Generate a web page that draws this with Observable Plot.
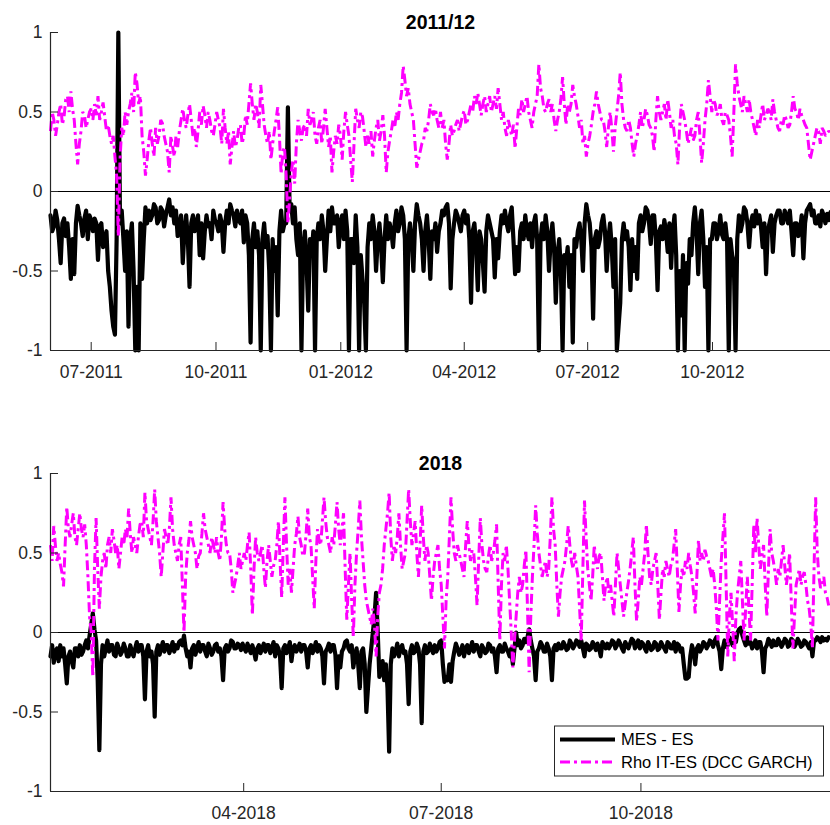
<!DOCTYPE html>
<html>
<head>
<meta charset="utf-8">
<script src="https://cdn.jsdelivr.net/npm/d3@7"></script>
<script src="https://cdn.jsdelivr.net/npm/@observablehq/plot@0.6"></script>
<style>
  html, body { margin: 0; padding: 0; background: #fff; }
  #fig { position: relative; width: 830px; height: 825px; overflow: hidden;
         font-family: "Liberation Sans", Arial, Helvetica, sans-serif; }
  #fig > .panel { position: absolute; left: 0; }
  #fig > svg.legend { position: absolute; }
</style>
</head>
<body>
<div id="fig"></div>
<script>
// ---- 2011/12 panel: one observation every 2.5 days, plus one half-way between each pair ----
const topStart = "2011-06-01";
const topStepDays = 2.5;
const topDomain = ["2011-06-01", "2012-12-27"];
const topTicks = ["2011-07-01", "2011-10-01", "2012-01-01", "2012-04-01", "2012-07-01", "2012-10-01"];

const mesTop = [
  -0.15, -0.22, -0.18, -0.45, -0.17, -0.2, -0.55, -0.52, -0.09, -0.2,
  -0.17, -0.3, -0.18, -0.17, -0.43, -0.2, -0.3, -0.5, -0.75, -0.9,
  1.0, -0.12, -0.5, -0.85, -0.2, -1.0, -1.0, -0.55, -0.1, -0.12,
  -0.15, -0.1, -0.18, -0.12, -0.15, -0.05, -0.1, -0.12, -0.22, -0.45,
  -0.15, -0.6, -0.15, -0.2, -0.4, -0.42, -0.15, -0.2, -0.12, -0.2,
  -0.15, -0.38, -0.12, -0.08, -0.15, -0.12, -0.2, -0.32,
  -0.2, -0.95, -0.2, -0.25, -1.0, -0.2, -0.28, -1.0, -0.5, -0.78,
  -0.12, -0.2, 0.53, -0.08, -0.1, -0.4, -1.0, -0.25, -0.75, -0.4,
  -1.0, -0.2, -0.15, -0.5, -0.12, -0.1, -0.2, -0.35, -0.15, -0.12,
  -1.0, -0.3, -0.15, -1.0, -0.55, -1.0, -0.2, -0.15, -0.5, -0.2,
  -0.57, -0.15, -0.2, -0.35, -0.12, -0.2, -0.15, -1.0, -0.2, -0.5,
  -0.08, -0.2, -0.5, -0.15, -0.55, -0.3, -0.38, -0.2,
  -0.15, -0.08, -0.61, -0.2, -0.15, -0.25, -0.12, -0.15, -0.7, -0.2,
  -0.62, -0.3, -0.63, -0.15, -0.25, -0.54, -0.42, -0.15, -0.12, -0.25,
  -0.1, -0.52, -0.5, -0.2, -0.15, -0.3, -0.35, -0.15, -1.0, -0.2,
  -0.15, -0.5, -0.2, -0.7, -0.3, -1.0, -0.45, -0.6, -0.95, -0.35,
  -0.2, -0.5, -0.08, -0.2, -0.8, -0.25, -0.3, -0.15, -0.5, -0.2,
  -0.6, -1.0, -0.7, -0.2, -0.25, -0.62, -0.5, -0.55,
  -0.15, -0.2, -0.12, -0.33, -0.15, -0.62, -0.22, -0.18, -0.38, -0.48,
  -0.15, -1.0, -0.78, -1.0, -0.58, -0.4, -0.1, -0.52, -0.12, -0.6,
  -1.0, -0.3, -0.2, -0.25, -0.27, -0.2, -1.0, -0.4, -1.0, -0.15,
  -0.2, -0.12, -0.35, -0.15, -0.12, -0.15, -0.35, -0.52, -0.2, -0.38,
  -0.15, -0.12, -0.2, -0.15, -0.12, -0.4, -0.2, -0.25, -0.42, -0.12,
  -0.08, -0.12, -0.2, -0.22, -0.15, -0.14, -0.13
];
const mesTopMid = [
  -0.25, -0.12, -0.3, -0.2, -0.28, -0.35, -0.3, -0.2, -0.15, -0.28,
  -0.12, -0.15, -0.25, -0.2, -0.22, -0.35, -0.25, -0.6, -0.85, -0.3,
  -0.2, -0.3, -0.25, -0.3, -0.5, -0.6, -0.2, -0.3, -0.2, -0.18,
  -0.08, -0.2, -0.1, -0.22, -0.1, -0.15, -0.2, -0.28, -0.15, -0.25,
  -0.3, -0.2, -0.25, -0.15, -0.2, -0.25, -0.22, -0.3, -0.18, -0.25,
  -0.2, -0.2, -0.2, -0.12, -0.22, -0.18, -0.12, -0.15, -0.4, -0.3,
  -0.35, -0.4, -0.3, -0.35, -0.5, -0.3, -0.35, -0.25, -0.25, -0.2,
  -0.1, -0.2, -0.3, -0.2, -0.35, -0.45, -0.3, -0.25, -0.3, -0.3,
  -0.25, -0.3, -0.25, -0.2, -0.15, -0.2, -0.3, -0.25, -0.3, -0.45,
  -0.35, -0.4, -0.7, -0.35, -0.3, -0.25, -0.3, -0.35, -0.3, -0.3,
  -0.25, -0.2, -0.25, -0.1, -0.3, -0.3, -0.3, -0.2, -0.15, -0.3,
  -0.25, -0.3, -0.25, -0.2, -0.25, -0.12, -0.1, -0.2, -0.3, -0.12,
  -0.2, -0.15, -0.2, -0.3, -0.25, -0.35, -0.25, -0.45, -0.25, -0.2,
  -0.3, -0.3, -0.25, -0.2, -0.2, -0.15, -0.3, -0.35, -0.25, -0.3,
  -0.25, -0.2, -0.2, -0.3, -0.3, -0.3, -0.25, -0.3, -0.35, -0.4,
  -0.5, -0.4, -0.35, -0.4, -0.3, -0.25, -0.3, -0.2, -0.15, -0.35,
  -0.3, -0.35, -0.2, -0.25, -0.3, -0.35, -0.3, -0.85, -0.3, -0.3,
  -0.35, -0.3, -0.35, -0.2, -0.25, -0.1, -0.2, -0.15, -0.3, -0.25,
  -0.3, -0.25, -0.2, -0.25, -0.4, -0.5, -0.4, -0.45, -0.3, -0.2,
  -0.25, -0.2, -0.3, -0.35, -0.3, -0.2, -0.3, -0.15, -0.3, -0.3,
  -0.3, -0.45, -0.3, -0.25, -0.1, -0.2, -0.2, -0.22, -0.2, -0.22,
  -0.2, -0.25, -0.15, -0.2, -0.12, -0.2, -0.12, -0.2, -0.25, -0.2,
  -0.28, -0.15, -0.2, -0.1, -0.15, -0.2, -0.15, -0.12, -0.2, -0.18
];

const rhoTop = [
  0.38, 0.45, 0.42, 0.55, 0.47, 0.6, 0.63, 0.45, 0.17, 0.38,
  0.48, 0.45, 0.52, 0.55, 0.6, 0.5, 0.47, 0.42, 0.3, 0.22,
  -0.28, 0.4, 0.5, 0.5, 0.62, 0.75, 0.55, 0.35, 0.1, 0.32,
  0.3, 0.4, 0.35, 0.43, 0.3, 0.12, 0.28, 0.35, 0.38, 0.52,
  0.4, 0.55, 0.35, 0.28, 0.5, 0.54, 0.4, 0.45, 0.35, 0.5,
  0.4, 0.52, 0.3, 0.17, 0.38, 0.32, 0.42, 0.35,
  0.42, 0.68, 0.45, 0.5, 0.67, 0.42, 0.3, 0.2, 0.38, 0.53,
  0.11, 0.28, -0.2, 0.12, 0.05, 0.45, 0.32, 0.42, 0.52, 0.45,
  0.35, 0.4, 0.3, 0.52, 0.28, 0.12, 0.35, 0.42, 0.2, 0.5,
  0.35, 0.06, 0.52, 0.4, 0.47, 0.28, 0.3, 0.22, 0.4, 0.32,
  0.48, 0.12, 0.32, 0.45, 0.5, 0.55, 0.79, 0.6, 0.55, 0.45,
  0.15, 0.25, 0.32, 0.38, 0.55, 0.48, 0.45, 0.5,
  0.45, 0.2, 0.42, 0.38, 0.45, 0.43, 0.51, 0.45, 0.55, 0.6,
  0.62, 0.48, 0.6, 0.55, 0.5, 0.6, 0.65, 0.45, 0.4, 0.45,
  0.35, 0.27, 0.52, 0.58, 0.55, 0.5, 0.4, 0.55, 0.8, 0.6,
  0.5, 0.58, 0.55, 0.38, 0.5, 0.72, 0.42, 0.5, 0.67, 0.55,
  0.4, 0.3, 0.22, 0.35, 0.5, 0.63, 0.5, 0.45, 0.28, 0.5,
  0.25, 0.5, 0.75, 0.45, 0.38, 0.4, 0.22, 0.35,
  0.5, 0.45, 0.48, 0.4, 0.25, 0.6, 0.45, 0.55, 0.58, 0.4,
  0.35, 0.17, 0.55, 0.45, 0.3, 0.4, 0.35, 0.5, 0.18, 0.45,
  0.7, 0.5, 0.55, 0.5, 0.45, 0.5, 0.45, 0.22, 0.8, 0.6,
  0.5, 0.55, 0.58, 0.45, 0.35, 0.4, 0.55, 0.48, 0.5, 0.58,
  0.45, 0.38, 0.42, 0.45, 0.42, 0.6, 0.5, 0.52, 0.45, 0.4,
  0.2, 0.3, 0.4, 0.3, 0.38, 0.36, 0.37
];
const rhoTopMid = [
  0.5, 0.35, 0.5, 0.42, 0.58, 0.5, 0.52, 0.3, 0.3, 0.5,
  0.4, 0.5, 0.45, 0.48, 0.45, 0.56, 0.38, 0.35, 0.35, 0.1,
  0.2, 0.35, 0.42, 0.55, 0.5, 0.68, 0.6, 0.25, 0.2, 0.4,
  0.22, 0.3, 0.45, 0.35, 0.25, 0.35, 0.22, 0.28, 0.45, 0.45,
  0.48, 0.45, 0.4, 0.38, 0.42, 0.48, 0.5, 0.38, 0.42, 0.45,
  0.3, 0.4, 0.38, 0.28, 0.28, 0.4, 0.3, 0.48, 0.55, 0.55,
  0.55, 0.4, 0.55, 0.35, 0.38, 0.3, 0.45, 0.35, 0.25, 0.1,
  -0.05, 0.2, 0.3, 0.38, 0.4, 0.35, 0.42, 0.5, 0.3, 0.45,
  0.4, 0.4, 0.35, 0.25, 0.3, 0.35, 0.38, 0.42, 0.2, 0.3,
  0.45, 0.5, 0.38, 0.35, 0.38, 0.32, 0.45, 0.38, 0.35, 0.25,
  0.38, 0.4, 0.45, 0.62, 0.7, 0.65, 0.5, 0.3, 0.2, 0.3,
  0.4, 0.45, 0.5, 0.52, 0.4, 0.4, 0.3, 0.3, 0.35, 0.42,
  0.38, 0.48, 0.42, 0.5, 0.5, 0.55, 0.55, 0.55, 0.5, 0.6,
  0.55, 0.52, 0.55, 0.5, 0.35, 0.4, 0.42, 0.4, 0.48, 0.5,
  0.6, 0.45, 0.5, 0.6, 0.65, 0.52, 0.55, 0.5, 0.45, 0.45,
  0.58, 0.55, 0.55, 0.55, 0.6, 0.48, 0.45, 0.35, 0.3, 0.42,
  0.55, 0.55, 0.45, 0.38, 0.4, 0.4, 0.4, 0.6, 0.55, 0.4,
  0.45, 0.3, 0.3, 0.42, 0.4, 0.52, 0.42, 0.35, 0.45, 0.5,
  0.5, 0.45, 0.5, 0.45, 0.3, 0.4, 0.5, 0.38, 0.35, 0.32,
  0.45, 0.35, 0.3, 0.55, 0.6, 0.58, 0.48, 0.55, 0.42, 0.48,
  0.35, 0.5, 0.68, 0.55, 0.6, 0.5, 0.5, 0.4, 0.45, 0.48,
  0.45, 0.52, 0.45, 0.5, 0.4, 0.45, 0.48, 0.4, 0.5, 0.52,
  0.45, 0.48, 0.42, 0.3, 0.25, 0.35, 0.38, 0.4, 0.35, 0.38
];

// ---- 2018 panel: one observation every 1.5 days, plus one half-way between each pair ----
const bottomStart = "2018-01-02";
const bottomStepDays = 1.5;
const bottomDomain = ["2018-01-02", "2018-12-27T08:00"];
const bottomTicks = ["2018-04-01", "2018-07-01", "2018-10-01"];

const mesBottom = [
  -0.15, -0.19, -0.1, -0.08, -0.1, -0.32, -0.12, -0.22, -0.1, -0.08,
  -0.12, -0.05, -0.02, 0.12, -0.05, -0.74, -0.08, -0.1, -0.12, -0.08,
  -0.15, -0.1, -0.12, -0.1, -0.15, -0.12, -0.1, -0.12, -0.08, -0.42,
  -0.08, -0.12, -0.53, -0.08, -0.1, -0.12, -0.08, -0.1, -0.12, -0.1,
  -0.05, -0.02, -0.15, -0.22, -0.08, -0.1, -0.12, -0.08, -0.15, -0.1,
  -0.12, -0.07, -0.1, -0.3, -0.08, -0.1, -0.06, -0.1, -0.08, -0.07,
  -0.12, -0.1, -0.08, -0.17, -0.08, -0.1, -0.12, -0.08, -0.1, -0.15,
  -0.1, -0.35, -0.08, -0.1, -0.18, -0.08, -0.1, -0.12, -0.08, -0.22,
  -0.08, -0.1, -0.12, -0.1, -0.32, -0.1, -0.12, -0.08, -0.35, -0.22,
  -0.1, -0.05, -0.12, -0.22, -0.1, -0.35, -0.1, -0.5, -0.2, 0.0,
  0.25, -0.28, -0.18, -0.2, -0.75, -0.1, -0.12, -0.15, -0.08, -0.12,
  -0.45, -0.08, -0.12, -0.1, -0.57, -0.08, -0.12, -0.1, -0.08, -0.1,
  -0.05, -0.31, -0.3, -0.31, -0.12, -0.1, -0.12, -0.15, -0.08, -0.1,
  -0.12, -0.08, -0.15, -0.1, -0.12, -0.08, -0.1, -0.25, -0.08, -0.12,
  -0.1, -0.15, -0.2, 0.0, -0.05, -0.08, -0.06, 0.02, -0.1, -0.3,
  -0.1, -0.08, -0.12, -0.1, -0.3, -0.08, -0.07, -0.1, -0.08, -0.1,
  -0.07, -0.08, -0.06, -0.05, -0.15, -0.08, -0.1, -0.08, -0.07, -0.15,
  -0.08, -0.07, -0.08, -0.06, -0.08, -0.07, -0.12, -0.08, -0.07, -0.05,
  -0.08, -0.1, -0.07, -0.12, -0.08, -0.1, -0.07, -0.1, -0.08, -0.12,
  -0.07, -0.1, -0.12, -0.08, -0.1, -0.29, -0.28, -0.08, -0.2, -0.08,
  -0.1, -0.07, -0.08, -0.06, -0.05, -0.08, -0.23, -0.05, -0.08, -0.05,
  -0.02, 0.0, 0.03, -0.05, -0.03, -0.06, -0.08, -0.1, -0.06, -0.25,
  -0.08, -0.06, -0.05, -0.08, -0.06, -0.07, -0.05, -0.08, -0.05, -0.07,
  -0.06, -0.08, -0.06, -0.1, -0.15, -0.05, -0.04, -0.03, -0.04, -0.03
];
const mesBottomMid = [
  -0.08, -0.12, -0.18, -0.15, -0.2, -0.15, -0.18, -0.1, -0.15, -0.14,
  -0.08, -0.1, 0.05, 0.02, -0.3, -0.2, -0.15, -0.05, -0.08, -0.14,
  -0.07, -0.14, -0.07, -0.15, -0.08, -0.15, -0.06, -0.08, -0.15, -0.12,
  -0.15, -0.2, -0.12, -0.14, -0.06, -0.08, -0.13, -0.06, -0.08, -0.06,
  -0.08, -0.1, -0.12, -0.1, -0.14, -0.06, -0.08, -0.12, -0.07, -0.14,
  -0.08, -0.12, -0.15, -0.1, -0.12, -0.05, -0.1, -0.07, -0.11, -0.1,
  -0.07, -0.13, -0.12, -0.1, -0.13, -0.07, -0.08, -0.13, -0.06, -0.08,
  -0.15, -0.1, -0.13, -0.06, -0.1, -0.12, -0.07, -0.08, -0.12, -0.1,
  -0.13, -0.06, -0.08, -0.15, -0.12, -0.07, -0.08, -0.14, -0.15, -0.12,
  -0.06, -0.1, -0.08, -0.15, -0.2, -0.12, -0.2, -0.35, -0.1, 0.1,
  0.0, -0.25, -0.3, -0.35, -0.2, -0.15, -0.07, -0.1, -0.13, -0.2,
  -0.12, -0.13, -0.07, -0.2, -0.12, -0.13, -0.07, -0.13, -0.12, -0.06,
  -0.2, -0.28, -0.2, -0.18, -0.07, -0.14, -0.08, -0.1, -0.13, -0.06,
  -0.08, -0.12, -0.08, -0.13, -0.07, -0.12, -0.15, -0.1, -0.12, -0.07,
  -0.12, -0.1, -0.1, -0.08, -0.1, -0.04, -0.03, -0.05, -0.15, -0.12,
  -0.06, -0.12, -0.07, -0.15, -0.1, -0.11, -0.1, -0.06, -0.11, -0.05,
  -0.1, -0.05, -0.09, -0.1, -0.07, -0.11, -0.06, -0.11, -0.1, -0.06,
  -0.1, -0.1, -0.05, -0.1, -0.05, -0.1, -0.06, -0.1, -0.04, -0.1,
  -0.05, -0.06, -0.1, -0.06, -0.11, -0.06, -0.11, -0.06, -0.1, -0.06,
  -0.1, -0.06, -0.07, -0.12, -0.2, -0.29, -0.15, -0.12, -0.1, -0.12,
  -0.06, -0.1, -0.05, -0.09, -0.03, -0.12, -0.1, -0.09, -0.03, -0.08,
  -0.06, 0.02, -0.02, -0.08, -0.07, -0.1, -0.05, -0.06, -0.12, -0.1,
  -0.04, -0.09, -0.08, -0.04, -0.09, -0.04, -0.09, -0.04, -0.09, -0.04,
  -0.09, -0.05, -0.08, -0.06, -0.05, -0.03, -0.06, -0.05, -0.05
];

const rhoBottom = [
  0.55, 0.67, 0.45, 0.43, 0.29, 0.79, 0.6, 0.75, 0.55, 0.75,
  0.6, 0.55, 0.1, -0.28, 0.72, 0.15, 0.45, 0.4, 0.6, 0.65,
  0.5, 0.4, 0.6, 0.65, 0.78, 0.5, 0.55, 0.6, 0.7, 0.88,
  0.65, 0.55, 0.9, 0.6, 0.35, 0.65, 0.55, 0.85, 0.55, 0.45,
  0.6, 0.0, 0.5, 0.7, 0.55, 0.4, 0.5, 0.75, 0.6, 0.5,
  0.55, 0.6, 0.45, 0.82, 0.55, 0.5, 0.25, 0.35, 0.5, 0.45,
  0.45, 0.63, 0.11, 0.6, 0.45, 0.55, 0.28, 0.55, 0.35, 0.45,
  0.7, 0.22, 0.85, 0.3, 0.25, 0.55, 0.73, 0.55, 0.5, 0.78,
  0.55, 0.15, 0.65, 0.55, 0.85, 0.6, 0.5, 0.55, 0.82, 0.55,
  0.75, 0.08, 0.5, -0.03, 0.5, 0.83, 0.45, 0.2, 0.1, 0.15,
  -0.15, 0.25, 0.4, 0.65, 0.88, 0.45, 0.5, 0.75, 0.4, 0.5,
  0.9, 0.55, 0.7, 0.35, 0.8, 0.45, 0.5, 0.2, 0.45, 0.55,
  0.3, -0.1, 0.35, 0.85, 0.5, 0.55, 0.45, 0.35, 0.7, 0.45,
  0.5, 0.17, 0.72, 0.45, 0.38, 0.55, 0.5, 0.68, -0.05, 0.5,
  0.55, 0.2, -0.22, 0.1, 0.35, 0.3, 0.52, -0.25, 0.35, 0.8,
  0.5, 0.35, 0.45, 0.4, 0.85, 0.55, 0.1, 0.35, 0.45, 0.67,
  0.45, 0.5, 0.35, -0.05, 0.83, 0.4, 0.2, 0.55, 0.4, 0.5,
  0.2, 0.35, 0.3, 0.1, 0.5, 0.3, 0.1, 0.25, 0.4, 0.6,
  0.07, 0.35, 0.4, 0.68, 0.35, 0.4, 0.5, 0.08, 0.4, 0.45,
  0.35, 0.45, 0.65, 0.13, 0.4, 0.45, 0.5, 0.35, 0.12, 0.58,
  0.5, 0.52, 0.45, 0.35, 0.3, -0.05, 0.45, 0.75, -0.15, 0.25,
  -0.18, 0.25, 0.45, -0.05, 0.35, -0.05, 0.68, 0.72, 0.4, 0.55,
  0.1, 0.65, 0.45, 0.3, 0.35, 0.55, 0.3, 0.5, -0.1, 0.3,
  0.4, 0.35, 0.3, 0.15, -0.1, 0.85, 0.35, 0.3, 0.25, 0.17
];
const rhoBottomMid = [
  0.45, 0.55, 0.5, 0.38, 0.55, 0.65, 0.68, 0.6, 0.65, 0.65,
  0.68, 0.35, 0.0, 0.4, 0.4, 0.35, 0.5, 0.55, 0.5, 0.58,
  0.55, 0.5, 0.55, 0.6, 0.62, 0.6, 0.5, 0.68, 0.6, 0.7,
  0.6, 0.7, 0.7, 0.5, 0.5, 0.6, 0.65, 0.65, 0.5, 0.55,
  0.3, 0.35, 0.58, 0.6, 0.5, 0.48, 0.62, 0.65, 0.55, 0.6,
  0.5, 0.5, 0.6, 0.65, 0.5, 0.4, 0.3, 0.42, 0.4, 0.5,
  0.55, 0.4, 0.4, 0.5, 0.5, 0.4, 0.45, 0.45, 0.42, 0.55,
  0.45, 0.55, 0.55, 0.4, 0.4, 0.62, 0.6, 0.48, 0.62, 0.6,
  0.35, 0.45, 0.58, 0.7, 0.7, 0.55, 0.6, 0.68, 0.65, 0.65,
  0.4, 0.3, 0.2, 0.3, 0.65, 0.6, 0.3, 0.15, 0.05, 0.05,
  0.1, 0.3, 0.55, 0.75, 0.6, 0.55, 0.6, 0.55, 0.45, 0.7,
  0.7, 0.62, 0.5, 0.55, 0.6, 0.55, 0.35, 0.35, 0.5, 0.4,
  0.1, 0.2, 0.6, 0.65, 0.45, 0.5, 0.4, 0.55, 0.55, 0.52,
  0.35, 0.45, 0.55, 0.4, 0.48, 0.45, 0.58, 0.3, 0.3, 0.45,
  0.4, 0.0, -0.05, 0.25, 0.25, 0.42, 0.15, 0.1, 0.55, 0.62,
  0.42, 0.4, 0.35, 0.6, 0.65, 0.3, 0.25, 0.4, 0.55, 0.55,
  0.4, 0.42, 0.15, 0.4, 0.6, 0.3, 0.35, 0.45, 0.48, 0.35,
  0.3, 0.25, 0.2, 0.3, 0.4, 0.2, 0.18, 0.32, 0.5, 0.3,
  0.2, 0.3, 0.5, 0.5, 0.3, 0.45, 0.3, 0.25, 0.35, 0.4,
  0.42, 0.55, 0.4, 0.3, 0.35, 0.4, 0.42, 0.25, 0.35, 0.45,
  0.45, 0.48, 0.4, 0.4, 0.15, 0.2, 0.6, 0.3, 0.1, 0.05,
  0.1, 0.35, 0.2, 0.15, 0.15, 0.3, 0.5, 0.55, 0.48, 0.3,
  0.4, 0.5, 0.38, 0.4, 0.45, 0.42, 0.38, 0.2, 0.1, 0.35,
  0.3, 0.38, 0.2, 0.05, 0.4, 0.5, 0.28, 0.35, 0.22
];

const yTicks = [-1, -0.5, 0, 0.5, 1];
const seriesNames = ["MES - ES", "Rho IT-ES (DCC GARCH)"];
const mesColor = "#000000";
const rhoColor = "#ff00ff";
const rhoDash = "10,4,3,4";
const mesWidth = 4.2;
const rhoWidth = 3;
const axisColor = "#262626";
const font = '"Liberation Sans", Arial, Helvetica, sans-serif';

const DAY = 864e5;
const W = 830, ML = 50, MR = 0, MT = 32, PLOT_H = 318;

// observations at start + i*step, with the half-step readings slotted in between
function buildRows(start, step, mes, rho, mesMid, rhoMid) {
  const t0 = +new Date(start);
  const rows = [];
  for (let i = 0; i < mes.length; i++) {
    rows.push({date: new Date(t0 + i * step * DAY), mes: mes[i], rho: rho[i]});
    if (i < mesMid.length && i < rhoMid.length && i < mes.length - 1) {
      rows.push({date: new Date(t0 + (i + 0.5) * step * DAY), mes: mesMid[i], rho: rhoMid[i]});
    }
  }
  return rows;
}

function panel({title, rows, domain, ticks, height}) {
  const x0 = new Date(domain[0]);
  const x1 = new Date(domain[1]);
  const tickDates = ticks.map(d => new Date(d));
  const mb = height - MT - PLOT_H;
  return Plot.plot({
    width: W, height,
    marginLeft: ML, marginRight: MR, marginTop: MT, marginBottom: mb,
    style: {fontFamily: font, fontSize: "17.5px", color: axisColor, background: "white", overflow: "visible"},
    x: {type: "utc", domain: [x0, x1]},
    y: {domain: [-1, 1]},
    marks: [
      Plot.ruleY([0], {stroke: "#000", strokeWidth: 1.2}),
      Plot.line(rows, {x: "date", y: "mes", stroke: mesColor, strokeWidth: mesWidth}),
      Plot.line(rows, {x: "date", y: "rho", stroke: rhoColor, strokeWidth: rhoWidth,
                       strokeDasharray: rhoDash, strokeLinecap: "butt", strokeLinejoin: "miter"}),
      // axis lines (left and bottom only)
      Plot.ruleX([x0], {stroke: axisColor, strokeWidth: 1.2}),
      Plot.ruleY([-1], {stroke: axisColor, strokeWidth: 1.2}),
      // inward tick marks
      Plot.tickY(yTicks, {y: d => d, insetRight: W - ML - MR - 8, stroke: axisColor, strokeWidth: 1}),
      Plot.tickX(tickDates, {x: d => d, insetTop: PLOT_H - 8, stroke: axisColor, strokeWidth: 1}),
      Plot.axisY(yTicks, {tickSize: 0, tickPadding: 8, tickFormat: d => String(d), label: null}),
      Plot.axisX(tickDates, {tickSize: 0, tickPadding: 15, tickFormat: d3.utcFormat("%m-%Y"), label: null}),
      Plot.text([title], {frameAnchor: "top", dy: -17, fontWeight: "bold", fontSize: 19.5, fill: "#000"})
    ]
  });
}

const fig = document.getElementById("fig");

const topDiv = document.createElement("div");
topDiv.className = "panel";
topDiv.style.top = "0px";
topDiv.append(panel({
  title: "2011/12",
  rows: buildRows(topStart, topStepDays, mesTop, rhoTop, mesTopMid, rhoTopMid),
  domain: topDomain, ticks: topTicks, height: 385
}));
fig.append(topDiv);

const botDiv = document.createElement("div");
botDiv.className = "panel";
botDiv.style.top = "441px";
botDiv.append(panel({
  title: "2018",
  rows: buildRows(bottomStart, bottomStepDays, mesBottom, rhoBottom, mesBottomMid, rhoBottomMid),
  domain: bottomDomain, ticks: bottomTicks, height: 384
}));
fig.append(botDiv);

// legend box in the lower right of the 2018 panel
const lg = d3.select(fig).append("svg")
  .attr("class", "legend")
  .attr("width", 271).attr("height", 52)
  .style("left", "553px").style("top", "725px");
lg.append("rect").attr("x", 1.5).attr("y", 1).attr("width", 269).attr("height", 50)
  .attr("fill", "white").attr("stroke", axisColor).attr("stroke-width", 1);
const entries = [
  {name: seriesNames[0], color: mesColor, width: mesWidth, dash: null, y: 14.5},
  {name: seriesNames[1], color: rhoColor, width: rhoWidth, dash: rhoDash, y: 37}
];
for (const e of entries) {
  lg.append("line").attr("x1", 7).attr("x2", 62).attr("y1", e.y).attr("y2", e.y)
    .attr("stroke", e.color).attr("stroke-width", e.width)
    .attr("stroke-dasharray", e.dash);
  lg.append("text").attr("x", 68).attr("y", e.y).attr("dy", "0.35em")
    .attr("font-family", font).attr("font-size", 16.5).attr("fill", "#000")
    .text(e.name);
}
</script>
</body>
</html>
